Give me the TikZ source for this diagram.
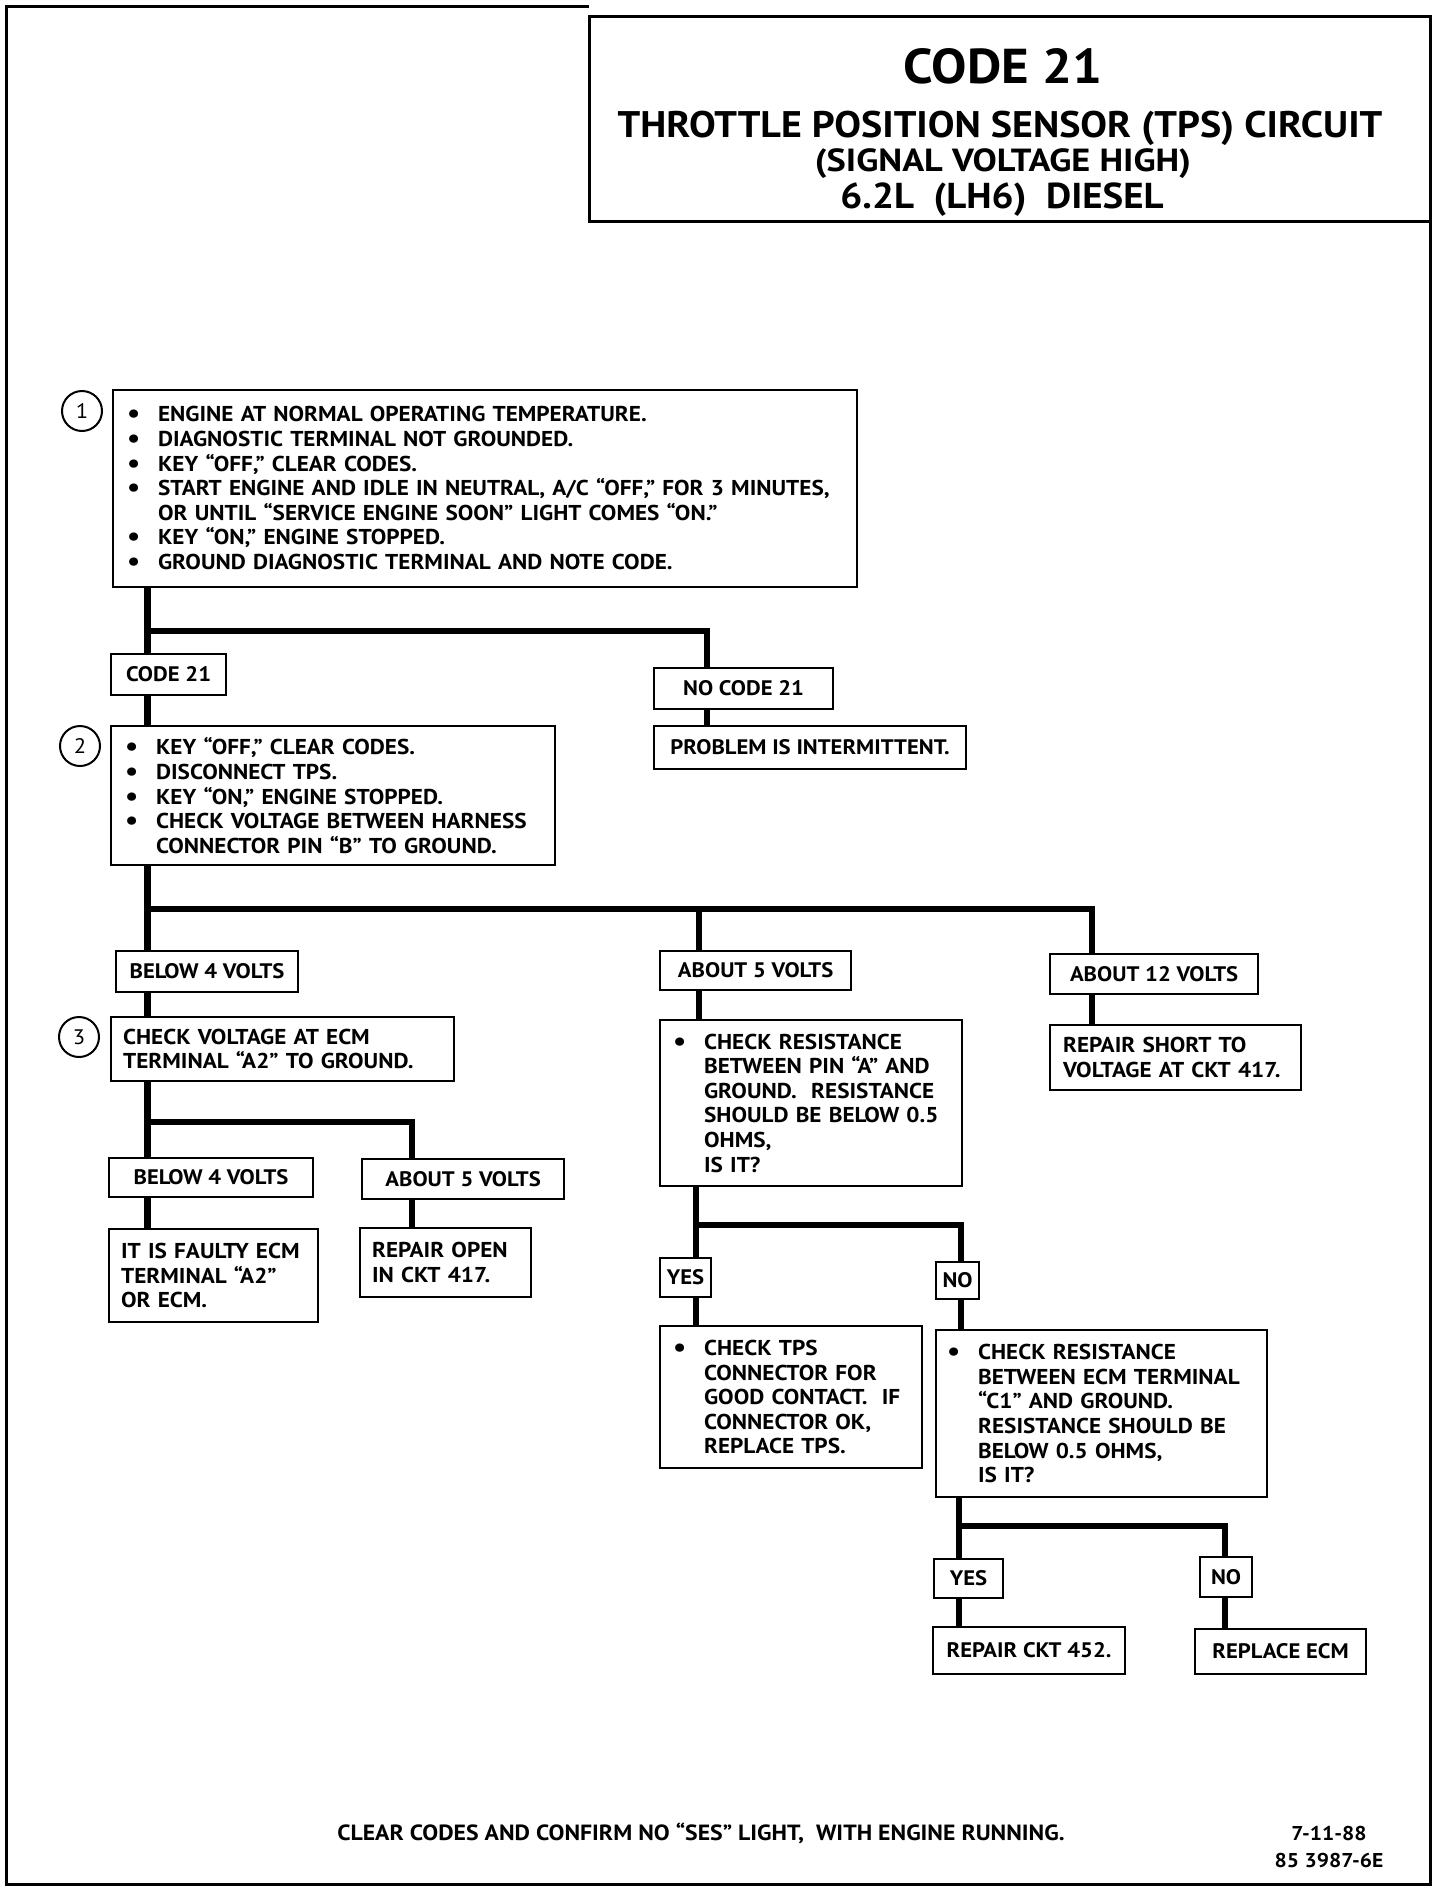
\documentclass[tikz,border=0pt]{standalone}
\usepackage{fontspec}
\setmainfont{PT Sans}[FakeStretch=1.08]
\usepackage{tikz}
\usetikzlibrary{calc,positioning}
\usetikzlibrary{shapes}
\newcommand{\bul}{\makebox[31pt][l]{\fontsize{27}{0}\selectfont\raisebox{-1pt}{\textbullet}}}
\newcommand{\ind}{\hspace*{31pt}}
\begin{document}
\begin{tikzpicture}[x=1pt, y=-1pt,
  main/.style = {draw, rectangle, line width=2.2pt, anchor=north west, align=left, inner xsep=14pt, inner ysep=0pt, font=\bfseries\fontsize{21.5}{24.6}\selectfont},
  sep/.style = {draw, rectangle, line width=2.2pt, anchor=north west, align=center, inner sep=0pt, font=\bfseries\fontsize{21}{24.6}\selectfont},
  num/.style = {draw, circle, line width=2pt, minimum size=40pt, inner sep=0pt, font=\fontsize{21}{21}\selectfont},
  wire/.style = {line width=6.5pt}]
\useasboundingbox (0,0) rectangle (1440,1892);
% frame and title
\draw[line width=3pt] (589,7) -- (6,7) -- (6,1884) -- (1430,1884) -- (1430,221);
\draw[line width=3pt] (589,17) rectangle (1430,221);
\node[font=\bfseries\fontsize{49}{49}\selectfont] (t1) at (1003,66) {CODE 21};
\node[font=\bfseries\fontsize{37}{37}\selectfont] (t2) at (1000,128) {THROTTLE POSITION SENSOR (TPS) CIRCUIT};
\node[font=\bfseries\fontsize{32}{32}\selectfont, xscale=1.05] (t3) at (1003,164) {(SIGNAL VOLTAGE HIGH)};
\node[font=\bfseries\fontsize{36}{36}\selectfont] (t4) at (1002,200) {6.2L~~(LH6)~~DIESEL};
% step 1
\node[num] (n1) at (82,411) {1};
\node[main, minimum width=744, minimum height=197, text width=716] (chk1) at (112,389) {%
\bul ENGINE AT NORMAL OPERATING TEMPERATURE.\\
\bul DIAGNOSTIC TERMINAL NOT GROUNDED.\\
\bul KEY “OFF,” CLEAR CODES.\\
\bul START ENGINE AND IDLE IN NEUTRAL, A/C “OFF,” FOR 3 MINUTES,\\
\ind OR UNTIL “SERVICE ENGINE SOON” LIGHT COMES “ON.”\\
\bul KEY “ON,” ENGINE STOPPED.\\
\bul GROUND DIAGNOSTIC TERMINAL AND NOTE CODE.};
\node[sep, minimum width=115, minimum height=41] (c21) at (110,653) {CODE 21};
\node[sep, minimum width=179, minimum height=41] (noc21) at (653,667) {NO CODE 21};
\node[sep, minimum width=312, minimum height=43] (prob) at (653,725) {PROBLEM IS INTERMITTENT.};
% step 2
\node[num] (n2) at (80,746) {2};
\node[main, minimum width=444, minimum height=139, text width=416] (chk2) at (110,725) {%
\bul KEY “OFF,” CLEAR CODES.\\
\bul DISCONNECT TPS.\\
\bul KEY “ON,” ENGINE STOPPED.\\
\bul CHECK VOLTAGE BETWEEN HARNESS\\
\ind CONNECTOR PIN “B” TO GROUND.};
\node[sep, minimum width=182, minimum height=41] (b4a) at (115,950) {BELOW 4 VOLTS};
\node[sep, minimum width=191, minimum height=39] (a5a) at (659,950) {ABOUT 5 VOLTS};
\node[sep, minimum width=208, minimum height=40] (a12) at (1049,953) {ABOUT 12 VOLTS};
% step 3
\node[num] (n3) at (79,1037) {3};
\node[main, inner xsep=12pt, minimum width=343, minimum height=64, text width=319] (chk3) at (110,1016) {%
CHECK VOLTAGE AT ECM\\ TERMINAL “A2” TO GROUND.};
\node[sep, minimum width=204, minimum height=39] (b4b) at (108,1157) {BELOW 4 VOLTS};
\node[sep, minimum width=202, minimum height=40] (a5b) at (361,1158) {ABOUT 5 VOLTS};
\node[main, inner xsep=12pt, minimum width=209, minimum height=93, text width=185] (ecm1) at (108,1228) {%
IT IS FAULTY ECM\\ TERMINAL “A2”\\ OR ECM.};
\node[main, inner xsep=12pt, minimum width=171, minimum height=69, text width=147] (open) at (359,1227) {%
REPAIR OPEN\\ IN CKT 417.};
\node[main, inner xsep=13pt, minimum width=251, minimum height=65, text width=225] (short) at (1049,1024) {%
REPAIR SHORT TO\\ VOLTAGE AT CKT 417.};
% resistance checks
\node[main, inner xsep=13pt, minimum width=302, minimum height=166, text width=276] (res1) at (659,1019) {%
\bul CHECK RESISTANCE\\
\ind BETWEEN PIN “A” AND\\
\ind GROUND.~ RESISTANCE\\
\ind SHOULD BE BELOW 0.5\\
\ind OHMS,\\
\ind IS IT?};
\node[sep, minimum width=51, minimum height=39] (yes1) at (659,1257) {YES};
\node[sep, minimum width=43, minimum height=37] (no1) at (935,1261) {NO};
\node[main, inner xsep=13pt, minimum width=262, minimum height=142, text width=236] (tps) at (659,1325) {%
\bul CHECK TPS\\
\ind CONNECTOR FOR\\
\ind GOOD CONTACT.~ IF\\
\ind CONNECTOR OK,\\
\ind REPLACE TPS.};
\node[main, inner xsep=11pt, minimum width=331, minimum height=167, text width=309] (res2) at (935,1329) {%
\bul CHECK RESISTANCE\\
\ind BETWEEN ECM TERMINAL\\
\ind “C1” AND GROUND.\\
\ind RESISTANCE SHOULD BE\\
\ind BELOW 0.5 OHMS,\\
\ind IS IT?};
\node[sep, minimum width=69, minimum height=39] (yes2) at (933,1558) {YES};
\node[sep, minimum width=52, minimum height=40] (no2) at (1199,1556) {NO};
\node[sep, minimum width=192, minimum height=47] (ckt) at (932,1626) {REPAIR CKT 452.};
\node[sep, minimum width=171, minimum height=45] (ecm2) at (1194,1628) {REPLACE ECM};
% footer
\node[font=\bfseries\fontsize{22}{22}\selectfont] (foot) at (701,1833) {CLEAR CODES AND CONFIRM NO “SES” LIGHT,~ WITH ENGINE RUNNING.};
\node[font=\bfseries\fontsize{20}{20}\selectfont] (date) at (1329,1833) {7-11-88};
\node[font=\bfseries\fontsize{20}{20}\selectfont] (fig) at (1329,1860) {85 3987-6E};
% branch points
\coordinate (j1) at (147.5,631);
\coordinate (j1r) at (707,631);
\coordinate (j2) at (147.5,909);
\coordinate (j2m) at (699,909);
\coordinate (j2r) at (1092,909);
\coordinate (j3) at (147.5,1122);
\coordinate (j3r) at (412,1122);
\coordinate (j4) at (696,1225);
\coordinate (j4r) at (961,1225);
\coordinate (j5) at (959,1526);
\coordinate (j5r) at (1225,1526);
% connectors
\draw[wire] (j1 |- chk1.south) -- (j1 |- c21.north);
\draw[wire] (j1) -- (j1r) -- (j1r |- noc21.north);
\draw[wire] (j1r |- noc21.south) -- (j1r |- prob.north);
\draw[wire] (j1 |- c21.south) -- (j1 |- chk2.north);
\draw[wire] (j2 |- chk2.south) -- (j2 |- b4a.north);
\draw[wire] (j2) -- (j2r) -- (j2r |- a12.north);
\draw[wire] (j2m) -- (j2m |- a5a.north);
\draw[wire] (j2 |- b4a.south) -- (j2 |- chk3.north);
\draw[wire] (j3 |- chk3.south) -- (j3 |- b4b.north);
\draw[wire] (j3) -- (j3r) -- (j3r |- a5b.north);
\draw[wire] (j3 |- b4b.south) -- (j3 |- ecm1.north);
\draw[wire] (j3r |- a5b.south) -- (j3r |- open.north);
\draw[wire] (j2m |- a5a.south) -- (j2m |- res1.north);
\draw[wire] (j2r |- a12.south) -- (j2r |- short.north);
\draw[wire] (j4 |- res1.south) -- (j4 |- yes1.north);
\draw[wire] (j4) -- (j4r) -- (j4r |- no1.north);
\draw[wire] (j4 |- yes1.south) -- (j4 |- tps.north);
\draw[wire] (j4r |- no1.south) -- (j4r |- res2.north);
\draw[wire] (j5 |- res2.south) -- (j5 |- yes2.north);
\draw[wire] (j5) -- (j5r) -- (j5r |- no2.north);
\draw[wire] (j5 |- yes2.south) -- (j5 |- ckt.north);
\draw[wire] (j5r |- no2.south) -- (j5r |- ecm2.north);
\end{tikzpicture}
\end{document}
